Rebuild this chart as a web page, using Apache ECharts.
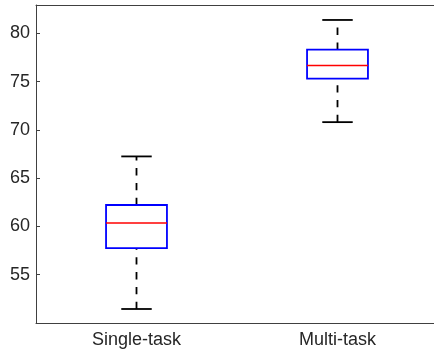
<!DOCTYPE html>
<html>
<head>
<meta charset="utf-8">
<script src="https://cdn.jsdelivr.net/npm/echarts@6/dist/echarts.min.js"></script>
<style>
html,body{margin:0;padding:0;background:#fff;}
#chart{width:434px;height:355px;}
</style>
</head>
<body>
<div id="chart"></div>
<script>
const categories = ['Single-task', 'Multi-task'];
const lowWhisker = [51.45, 70.8];
const q1 = [57.75, 75.3];
const median = [60.35, 76.67];
const q3 = [62.22, 78.3];
const highWhisker = [67.25, 81.38];
const yTicks = [55, 60, 65, 70, 75, 80];
const yMin = 50.0;
const yMax = 82.93;

const data = categories.map((c, i) => [i, lowWhisker[i], q1[i], median[i], q3[i], highWhisker[i]]);

const FONT = "'Liberation Sans', Arial, Helvetica, sans-serif";
const AX = '#404040';
const TXT = '#262626';

const chart = echarts.init(document.getElementById('chart'), null, {renderer: 'canvas'});

function renderItem(params, api) {
  const x = api.value(0);
  const pLow = api.coord([x, api.value(1)]);
  const pQ1 = api.coord([x, api.value(2)]);
  const pMed = api.coord([x, api.value(3)]);
  const pQ3 = api.coord([x, api.value(4)]);
  const pHigh = api.coord([x, api.value(5)]);
  const band = api.size([1, 0])[0];
  const bw = band * 0.303;
  const cw = bw / 2;
  const cx = pMed[0];
  const dash = {stroke: '#000', lineWidth: 1.8, lineDash: [7.3, 7.5]};
  return {
    type: 'group',
    children: [
      {type: 'line', shape: {x1: cx, y1: pQ3[1], x2: cx, y2: pHigh[1]}, style: dash},
      {type: 'line', shape: {x1: cx, y1: pLow[1], x2: cx, y2: pQ1[1]}, style: dash},
      {type: 'line', shape: {x1: cx - cw / 2, y1: pHigh[1], x2: cx + cw / 2, y2: pHigh[1]}, style: {stroke: '#000', lineWidth: 1.8}},
      {type: 'line', shape: {x1: cx - cw / 2, y1: pLow[1], x2: cx + cw / 2, y2: pLow[1]}, style: {stroke: '#000', lineWidth: 1.8}},
      {type: 'rect', shape: {x: cx - bw / 2, y: pQ3[1], width: bw, height: pQ1[1] - pQ3[1]}, style: {fill: 'none', stroke: '#0000ff', lineWidth: 1.8}},
      {type: 'line', shape: {x1: cx - bw / 2, y1: pMed[1], x2: cx + bw / 2, y2: pMed[1]}, style: {stroke: '#ff0000', lineWidth: 1.6}}
    ]
  };
}

const option = {
  backgroundColor: '#fff',
  animation: false,
  grid: {left: 36, width: 402, top: 5, bottom: 32, containLabel: false, outerBoundsMode: 'none'},
  xAxis: [
    {
      type: 'category', data: categories, position: 'bottom',
      axisLine: {lineStyle: {color: AX, width: 1}},
      axisTick: {inside: true, length: 4, alignWithLabel: true, lineStyle: {color: AX}},
      axisLabel: {color: TXT, fontSize: 18, fontFamily: FONT, margin: 8},
      splitLine: {show: false}
    },
    {
      type: 'category', data: categories, position: 'top',
      axisLine: {lineStyle: {color: AX, width: 1}},
      axisTick: {inside: true, length: 4, alignWithLabel: true, lineStyle: {color: AX}},
      axisLabel: {show: false},
      splitLine: {show: false}
    }
  ],
  yAxis: [
    {
      type: 'value', min: yMin, max: yMax, position: 'left',
      axisLine: {show: true, lineStyle: {color: AX, width: 1}},
      axisTick: {show: true, inside: true, length: 4, customValues: yTicks, lineStyle: {color: AX}},
      axisLabel: {color: TXT, fontSize: 18, fontFamily: FONT, margin: 6, customValues: yTicks},
      splitLine: {show: false}
    },
    {
      type: 'value', min: yMin, max: yMax, position: 'right',
      axisLine: {show: true, lineStyle: {color: AX, width: 1}},
      axisTick: {show: true, inside: true, length: 4, customValues: yTicks, lineStyle: {color: AX}},
      axisLabel: {show: false},
      splitLine: {show: false}
    }
  ],
  series: [{
    type: 'custom',
    renderItem: renderItem,
    encode: {x: 0, y: [1, 2, 3, 4, 5]},
    data: data,
    clip: false
  }]
};
chart.setOption(option);
</script>
</body>
</html>
